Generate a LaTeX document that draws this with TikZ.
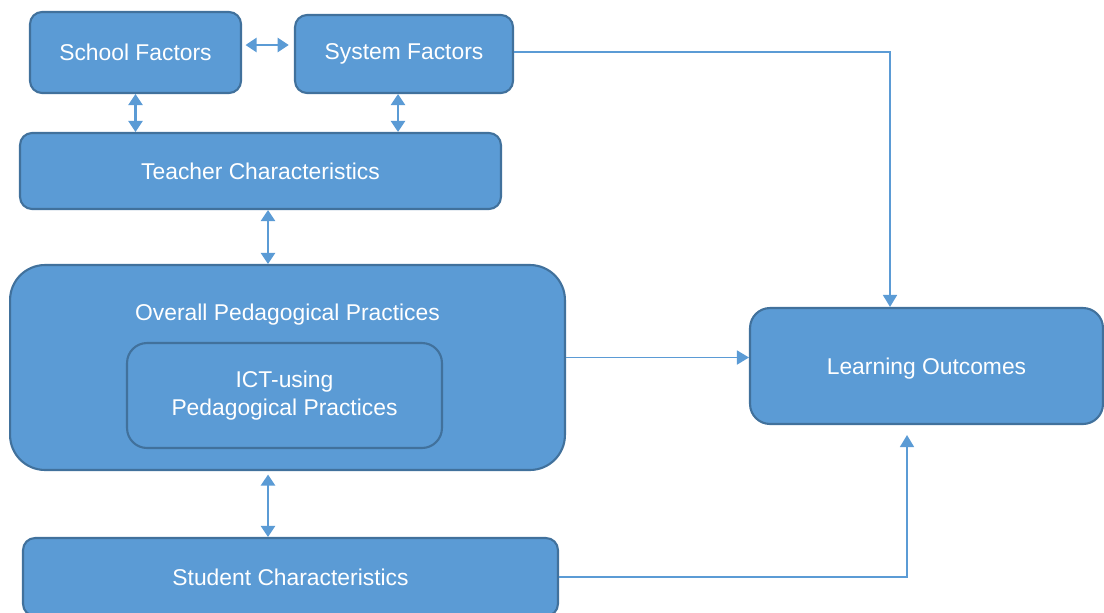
\documentclass[tikz,border=0pt]{standalone}
\usepackage{fontspec}
\setmainfont{Liberation Sans}
\usepackage{xcolor}
\usepackage{tikz}
\usetikzlibrary{positioning, arrows.meta}

\definecolor{boxblue}{HTML}{5B9BD5}
\definecolor{edgeblue}{HTML}{41719C}

\begin{document}
\begin{tikzpicture}[
    x=0.02cm, y=-0.02cm,
    factor/.style={rectangle, rounded corners=0.24cm, draw=edgeblue, line width=1.2pt, fill=boxblue, text=white, align=center, font=\fontsize{13}{15.5}\selectfont},
    link/.style={{Triangle[width=0.28cm,length=0.22cm]}-{Triangle[width=0.28cm,length=0.22cm]}, boxblue, line width=1.3pt},
    arrow/.style={-{Triangle[width=0.28cm,length=0.24cm]}, boxblue, line width=0.9pt}
]
    \useasboundingbox (0,0) rectangle (1104,612);

    % Nodes
    \node[factor, minimum width=4.22cm, minimum height=1.62cm] (school) at (135.5,52.5) {School Factors};
    \node[factor, minimum width=4.36cm, minimum height=1.56cm] (system) at (404,54) {System Factors};
    \node[factor, minimum width=9.62cm, minimum height=1.52cm] (teacher) at (260.5,171) {Teacher Characteristics};
    \node[factor, rounded corners=0.7cm, minimum width=11.1cm, minimum height=4.1cm] (overall) at (287.5,367.5) {};
    \node[text=white, font=\fontsize{13}{15.5}\selectfont, below=1.02cm of overall.north, anchor=center] (overalltitle) {Overall Pedagogical Practices};
    \node[factor, rounded corners=0.4cm, minimum width=6.3cm, minimum height=2.1cm] (ict) at (284.5,395.5) {ICT-using\\Pedagogical Practices};
    \node[factor, minimum width=10.7cm, minimum height=1.56cm] (student) at (290.5,577) {Student Characteristics};
    \node[factor, rounded corners=0.4cm, minimum width=7.06cm, minimum height=2.32cm, text depth=-0.1cm] (outcomes) at (926.5,366) {Learning Outcomes};

    % Two-way links between the factor boxes
    \draw[link, shorten <=2pt, shorten >=3pt] ([yshift=0.15cm]school.east) -- ([yshift=0.15cm]school.east -| system.west);
    \draw[link] (school.south) -- (school.south |- teacher.north);
    \draw[link] ([xshift=-0.12cm]system.south) -- ([xshift=-0.12cm]system.south |- teacher.north);
    \draw[link] ([xshift=0.15cm]teacher.south) -- ([xshift=0.15cm]teacher.south |- overall.north);
    \draw[link, shorten <=2pt] ([xshift=-0.39cm]overall.south) -- ([xshift=-0.39cm]overall.south |- student.north);

    % Arrows into the outcomes
    \draw[arrow] ([yshift=0.04cm]system.east) -| ([xshift=-0.73cm]outcomes.north);
    \draw[arrow] ([yshift=0.2cm]overall.east) -- ([yshift=0.2cm]overall.east -| outcomes.west);
    \draw[arrow, shorten >=0.2cm] (student.east) -| ([xshift=-0.39cm]outcomes.south);

\end{tikzpicture}
\end{document}
